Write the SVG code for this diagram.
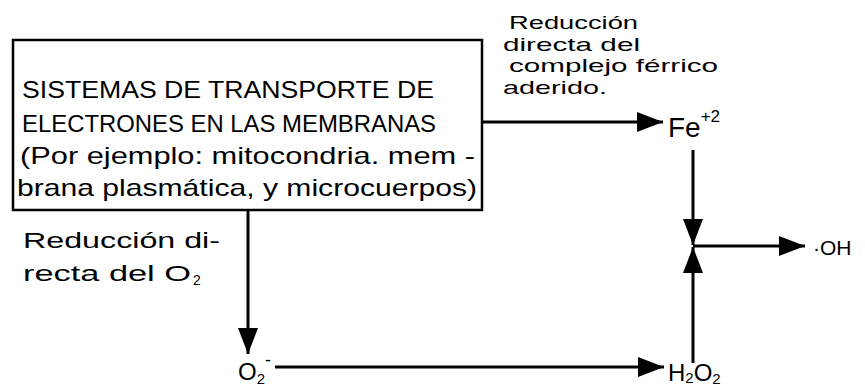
<svg xmlns="http://www.w3.org/2000/svg" width="865" height="391" viewBox="0 0 865 391">
<style>
.t{font-family:"Liberation Sans",Arial,sans-serif;fill:#000}
.b{font-size:24px}
.l{font-size:22px}
.r{font-size:19px}
.ln{stroke:#000;stroke-width:3;fill:none}
</style>
<defs>
<marker id="ah" markerUnits="userSpaceOnUse" markerWidth="28" markerHeight="22" refX="26" refY="11" orient="auto">
<path d="M0,1 L26,11 L0,21 Z" fill="#000"/>
</marker>
</defs>
<rect width="865" height="391" fill="#fff"/>
<g id="box">
<rect x="13" y="40" width="469" height="170" fill="none" stroke="#000" stroke-width="2.5"/>
<text class="t b" x="22" y="98" textLength="412" lengthAdjust="spacingAndGlyphs">SISTEMAS DE TRANSPORTE DE</text>
<text class="t b" x="22" y="132" textLength="414" lengthAdjust="spacingAndGlyphs">ELECTRONES EN LAS MEMBRANAS</text>
<text class="t b" x="20" y="164" textLength="455" lengthAdjust="spacingAndGlyphs">(Por ejemplo: mitocondria. mem -</text>
<text class="t b" x="17" y="196" textLength="460" lengthAdjust="spacingAndGlyphs">brana plasmática, y microcuerpos)</text>
</g>
<g id="fe">
<text class="t" font-size="28" x="668" y="137">Fe<tspan dy="-15" font-size="17">+2</tspan></text>
</g>
<g id="oh">
<text class="t" font-size="21" x="813" y="255">·OH</text>
</g>
<g id="o2">
<text class="t b" x="238" y="380">O<tspan dy="4" font-size="15">2</tspan><tspan dy="-18" font-size="18">-</tspan></text>
</g>
<g id="h2o2">
<text class="t b" x="668" y="381">H<tspan dy="2" font-size="15">2</tspan><tspan dy="-2">O</tspan><tspan dy="3" font-size="15">2</tspan></text>
</g>
<g id="labels">
<text class="t r" x="509" y="29" textLength="129" lengthAdjust="spacingAndGlyphs">Reducción</text>
<text class="t r" x="503" y="51" textLength="137" lengthAdjust="spacingAndGlyphs">directa del</text>
<text class="t r" x="509" y="72" textLength="209" lengthAdjust="spacingAndGlyphs">complejo férrico</text>
<text class="t r" x="503" y="94" textLength="104" lengthAdjust="spacingAndGlyphs">aderido.</text>
<text class="t l" x="23" y="248" textLength="197" lengthAdjust="spacingAndGlyphs">Reducción di-</text>
<text class="t l" x="23" y="281" textLength="168" lengthAdjust="spacingAndGlyphs">recta del O</text>
<text class="t" font-size="14" x="193" y="285">2</text>
</g>
<g id="connectors">
<line class="ln" x1="482" y1="122" x2="663" y2="122" marker-end="url(#ah)"/>
<line class="ln" x1="693" y1="150" x2="693" y2="245" marker-end="url(#ah)"/>
<line class="ln" x1="693" y1="363" x2="693" y2="247" marker-end="url(#ah)"/>
<line class="ln" x1="693" y1="246" x2="805" y2="246" marker-end="url(#ah)"/>
<line class="ln" x1="248" y1="210" x2="248" y2="354" marker-end="url(#ah)"/>
<line class="ln" x1="275" y1="367" x2="664" y2="367" marker-end="url(#ah)"/>
</g>
</svg>
